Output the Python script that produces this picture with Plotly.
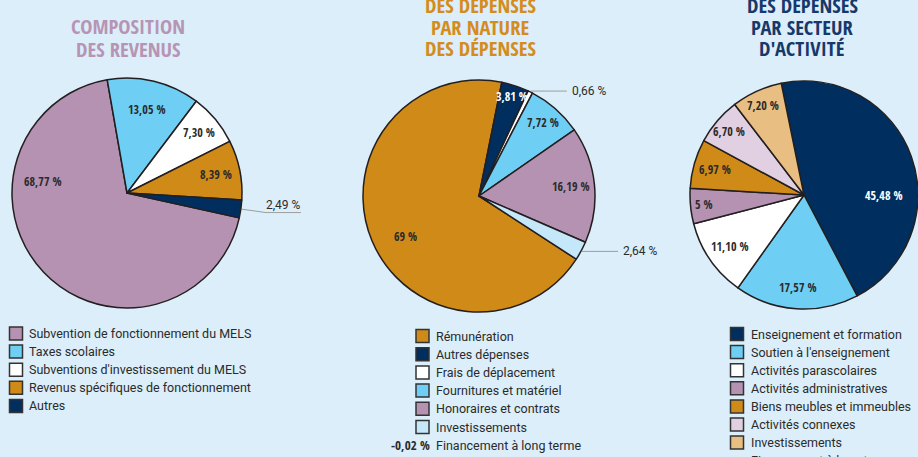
import math
import plotly.graph_objects as go

W, H = 918, 457

# ---------------- DATA ----------------
rev_labels = ["Subvention de fonctionnement du MELS", "Taxes scolaires",
              "Subventions d'investissement du MELS",
              "Revenus spécifiques de fonctionnement", "Autres"]
rev_values = [68.77, 13.05, 7.30, 8.39, 2.49]

nat_labels = ["Rémunération", "Autres dépenses", "Frais de déplacement",
              "Fournitures et matériel", "Honoraires et contrats", "Investissements"]
nat_values = [69.00, 3.81, 0.66, 7.72, 16.19, 2.64]

sec_labels = ["Enseignement et formation", "Soutien à l'enseignement",
              "Activités parascolaires", "Activités administratives",
              "Biens meubles et immeubles", "Activités connexes", "Investissements"]
sec_values = [45.48, 17.57, 11.10, 5.00, 6.97, 6.70, 7.20]

extra_label = "Financement à long terme"
extra_value = -0.02

titles = [["COMPOSITION", "DES REVENUS"],
          ["DES DÉPENSES", "PAR NATURE", "DES DÉPENSES"],
          ["DES DÉPENSES", "PAR SECTEUR", "D'ACTIVITÉ"]]

# ---------------- STYLE ----------------
BG = "#dbeef9"
MAUVE = "#b592b2"
LBLUE = "#6fcef4"
WHITE = "#ffffff"
ORANGE = "#d08a17"
NAVY = "#002f5f"
VLBLUE = "#c4e8f9"
PINK = "#e0d0e1"
TAN = "#e8be82"
EDGE = "#231f20"
TXT = "#2b2b2b"

rev_colors = [MAUVE, LBLUE, WHITE, ORANGE, NAVY]
nat_colors = [ORANGE, NAVY, WHITE, LBLUE, MAUVE, VLBLUE]
sec_colors = [NAVY, LBLUE, WHITE, MAUVE, ORANGE, PINK, TAN]
title_colors = ["#b894b4", "#d48c1c", "#17386a"]

BOLD_FONT = "'Open Sans Condensed', Roboto, sans-serif"
REG_FONT = "Roboto, 'Liberation Sans', sans-serif"
LEG_SIZE = 12.5
OUT_SIZE = 12
LAB_SIZE = 12
TITLE_SIZE = 20.5


def fmt(v):
    if abs(v - round(v)) < 1e-9:
        return f"{int(round(v))} %"
    return f"{v:.2f}".replace(".", ",") + " %"


def px(x):
    return x / W


def py(y):
    return 1 - y / H


pies = [
    dict(labels=rev_labels, values=rev_values, colors=rev_colors, cx=127, cy=193, R=115, rot=102.5,
         rfrac=[0.74, 0.75, 0.82, 0.79, None], angle={0: 278}, outside={4: "elbow"}),
    dict(labels=nat_labels, values=nat_values, colors=nat_colors, cx=479, cy=196, R=116, rot=123,
         rfrac=[0.72, 0.9, None, 0.84, 0.8, None], angle={0: 241}, outside={2: "hline", 5: "hline"}),
    dict(labels=sec_labels, values=sec_values, colors=sec_colors, cx=804, cy=195, R=114, rot=-11.5,
         rfrac=[0.7, 0.81, 0.79, 0.88, 0.81, 0.86, 0.86], angle={0: 90}, outside={}),
]

fig = go.Figure()
annotations = []
shapes = []

for p in pies:
    cx, cy, R = p["cx"], p["cy"], p["R"]
    fig.add_trace(go.Pie(
        labels=p["labels"], values=p["values"], sort=False, direction="clockwise",
        rotation=p["rot"], textinfo="none", showlegend=False,
        marker=dict(colors=p["colors"], line=dict(color=EDGE, width=1.5)),
        domain=dict(x=[max(0, px(cx - R)), min(1, px(cx + R))], y=[py(cy + R), py(cy - R)]),
        hovertemplate="%{label}: %{value}<extra></extra>",
    ))
    total = sum(p["values"])
    cum = 0
    for i, v in enumerate(p["values"]):
        mid = p["rot"] + 360 * (cum + v / 2) / total
        cum += v
        if i in p["outside"]:
            a = math.radians(mid)
            x0, y0 = cx + (R + 1) * math.sin(a), cy - (R + 1) * math.cos(a)
            if p["outside"][i] == "elbow":
                x1, y1 = cx + 1.22 * R * math.sin(a), cy - 1.22 * R * math.cos(a)
                x2 = x1 + 35
                shapes.append(dict(type="path", xref="paper", yref="paper",
                                   path=f"M{px(x0)},{py(y0)} L{px(x1)},{py(y1)} L{px(x2)},{py(y1)}",
                                   line=dict(color="#9d9d9d", width=1)))
                annotations.append(dict(x=px(x1 + 18), y=py(y1 - 8), text=fmt(v), showarrow=False,
                                        xanchor="center", yanchor="middle",
                                        font=dict(family=REG_FONT, size=OUT_SIZE, color=TXT)))
            else:
                x1 = x0 + 36
                shapes.append(dict(type="line", xref="paper", yref="paper",
                                   x0=px(x0), y0=py(y0), x1=px(x1), y1=py(y0),
                                   line=dict(color="#9d9d9d", width=1)))
                annotations.append(dict(x=px(x1 + 3), y=py(y0), text=fmt(v), showarrow=False,
                                        xanchor="left", yanchor="middle",
                                        font=dict(family=REG_FONT, size=OUT_SIZE, color=TXT)))
            continue
        ang = p["angle"].get(i, mid)
        a = math.radians(ang)
        r = p["rfrac"][i] * R
        lx, ly = cx + r * math.sin(a), cy - r * math.cos(a)
        col = "#ffffff" if p["colors"][i] == NAVY else TXT
        annotations.append(dict(x=px(lx), y=py(ly), text=f"<b>{fmt(v)}</b>", showarrow=False,
                                xanchor="center", yanchor="middle",
                                font=dict(family=BOLD_FONT, size=LAB_SIZE, color=col)))

# ---------------- TITLES ----------------
title_pos = [(128, [26, 49]), (480, [5, 27, 48]), (802, [5, 27, 48])]
for (tx, ys), lines, col in zip(title_pos, titles, title_colors):
    for ty, line in zip(ys, lines):
        annotations.append(dict(x=px(tx), y=py(ty), text=f"<b>{line}</b>", showarrow=False,
                                xanchor="center", yanchor="middle",
                                font=dict(family=BOLD_FONT, size=TITLE_SIZE, color=col)))

# ---------------- LEGENDS ----------------
legends = [
    dict(labels=rev_labels, colors=rev_colors, sx=16, tx=27, y0=333.5, dy=18.1, extra=False),
    dict(labels=nat_labels, colors=nat_colors, sx=422.5, tx=434, y0=336, dy=18.2, extra=True),
    dict(labels=sec_labels, colors=sec_colors, sx=737, tx=749, y0=334, dy=18.1, extra=True),
]
for lg in legends:
    for k, (lab, col) in enumerate(zip(lg["labels"], lg["colors"])):
        yc = lg["y0"] + k * lg["dy"]
        shapes.append(dict(type="rect", xref="paper", yref="paper",
                           x0=px(lg["sx"] - 6.5), x1=px(lg["sx"] + 6.5),
                           y0=py(yc + 6.5), y1=py(yc - 6.5),
                           fillcolor=col, line=dict(color="#333333", width=1.5)))
        annotations.append(dict(x=px(lg["tx"]), y=py(yc), text=lab, showarrow=False,
                                xanchor="left", yanchor="middle",
                                font=dict(family=REG_FONT, size=LEG_SIZE, color=TXT)))
    if lg["extra"]:
        yc = lg["y0"] + len(lg["labels"]) * lg["dy"]
        annotations.append(dict(x=px(lg["tx"] - 2), y=py(yc), text=f"<b>{fmt(extra_value)}</b>",
                                showarrow=False, xanchor="right", yanchor="middle",
                                font=dict(family=BOLD_FONT, size=13, color=TXT)))
        annotations.append(dict(x=px(lg["tx"]), y=py(yc), text=extra_label, showarrow=False,
                                xanchor="left", yanchor="middle",
                                font=dict(family=REG_FONT, size=LEG_SIZE, color=TXT)))

fig.update_layout(
    width=W, height=H,
    margin=dict(l=0, r=0, t=0, b=0),
    paper_bgcolor=BG, plot_bgcolor=BG,
    showlegend=False,
    annotations=annotations,
    shapes=shapes,
)

fig.write_html("out.html", config={"displayModeBar": False},
               post_script="document.body.style.margin='0';document.body.style.overflow='hidden';")
